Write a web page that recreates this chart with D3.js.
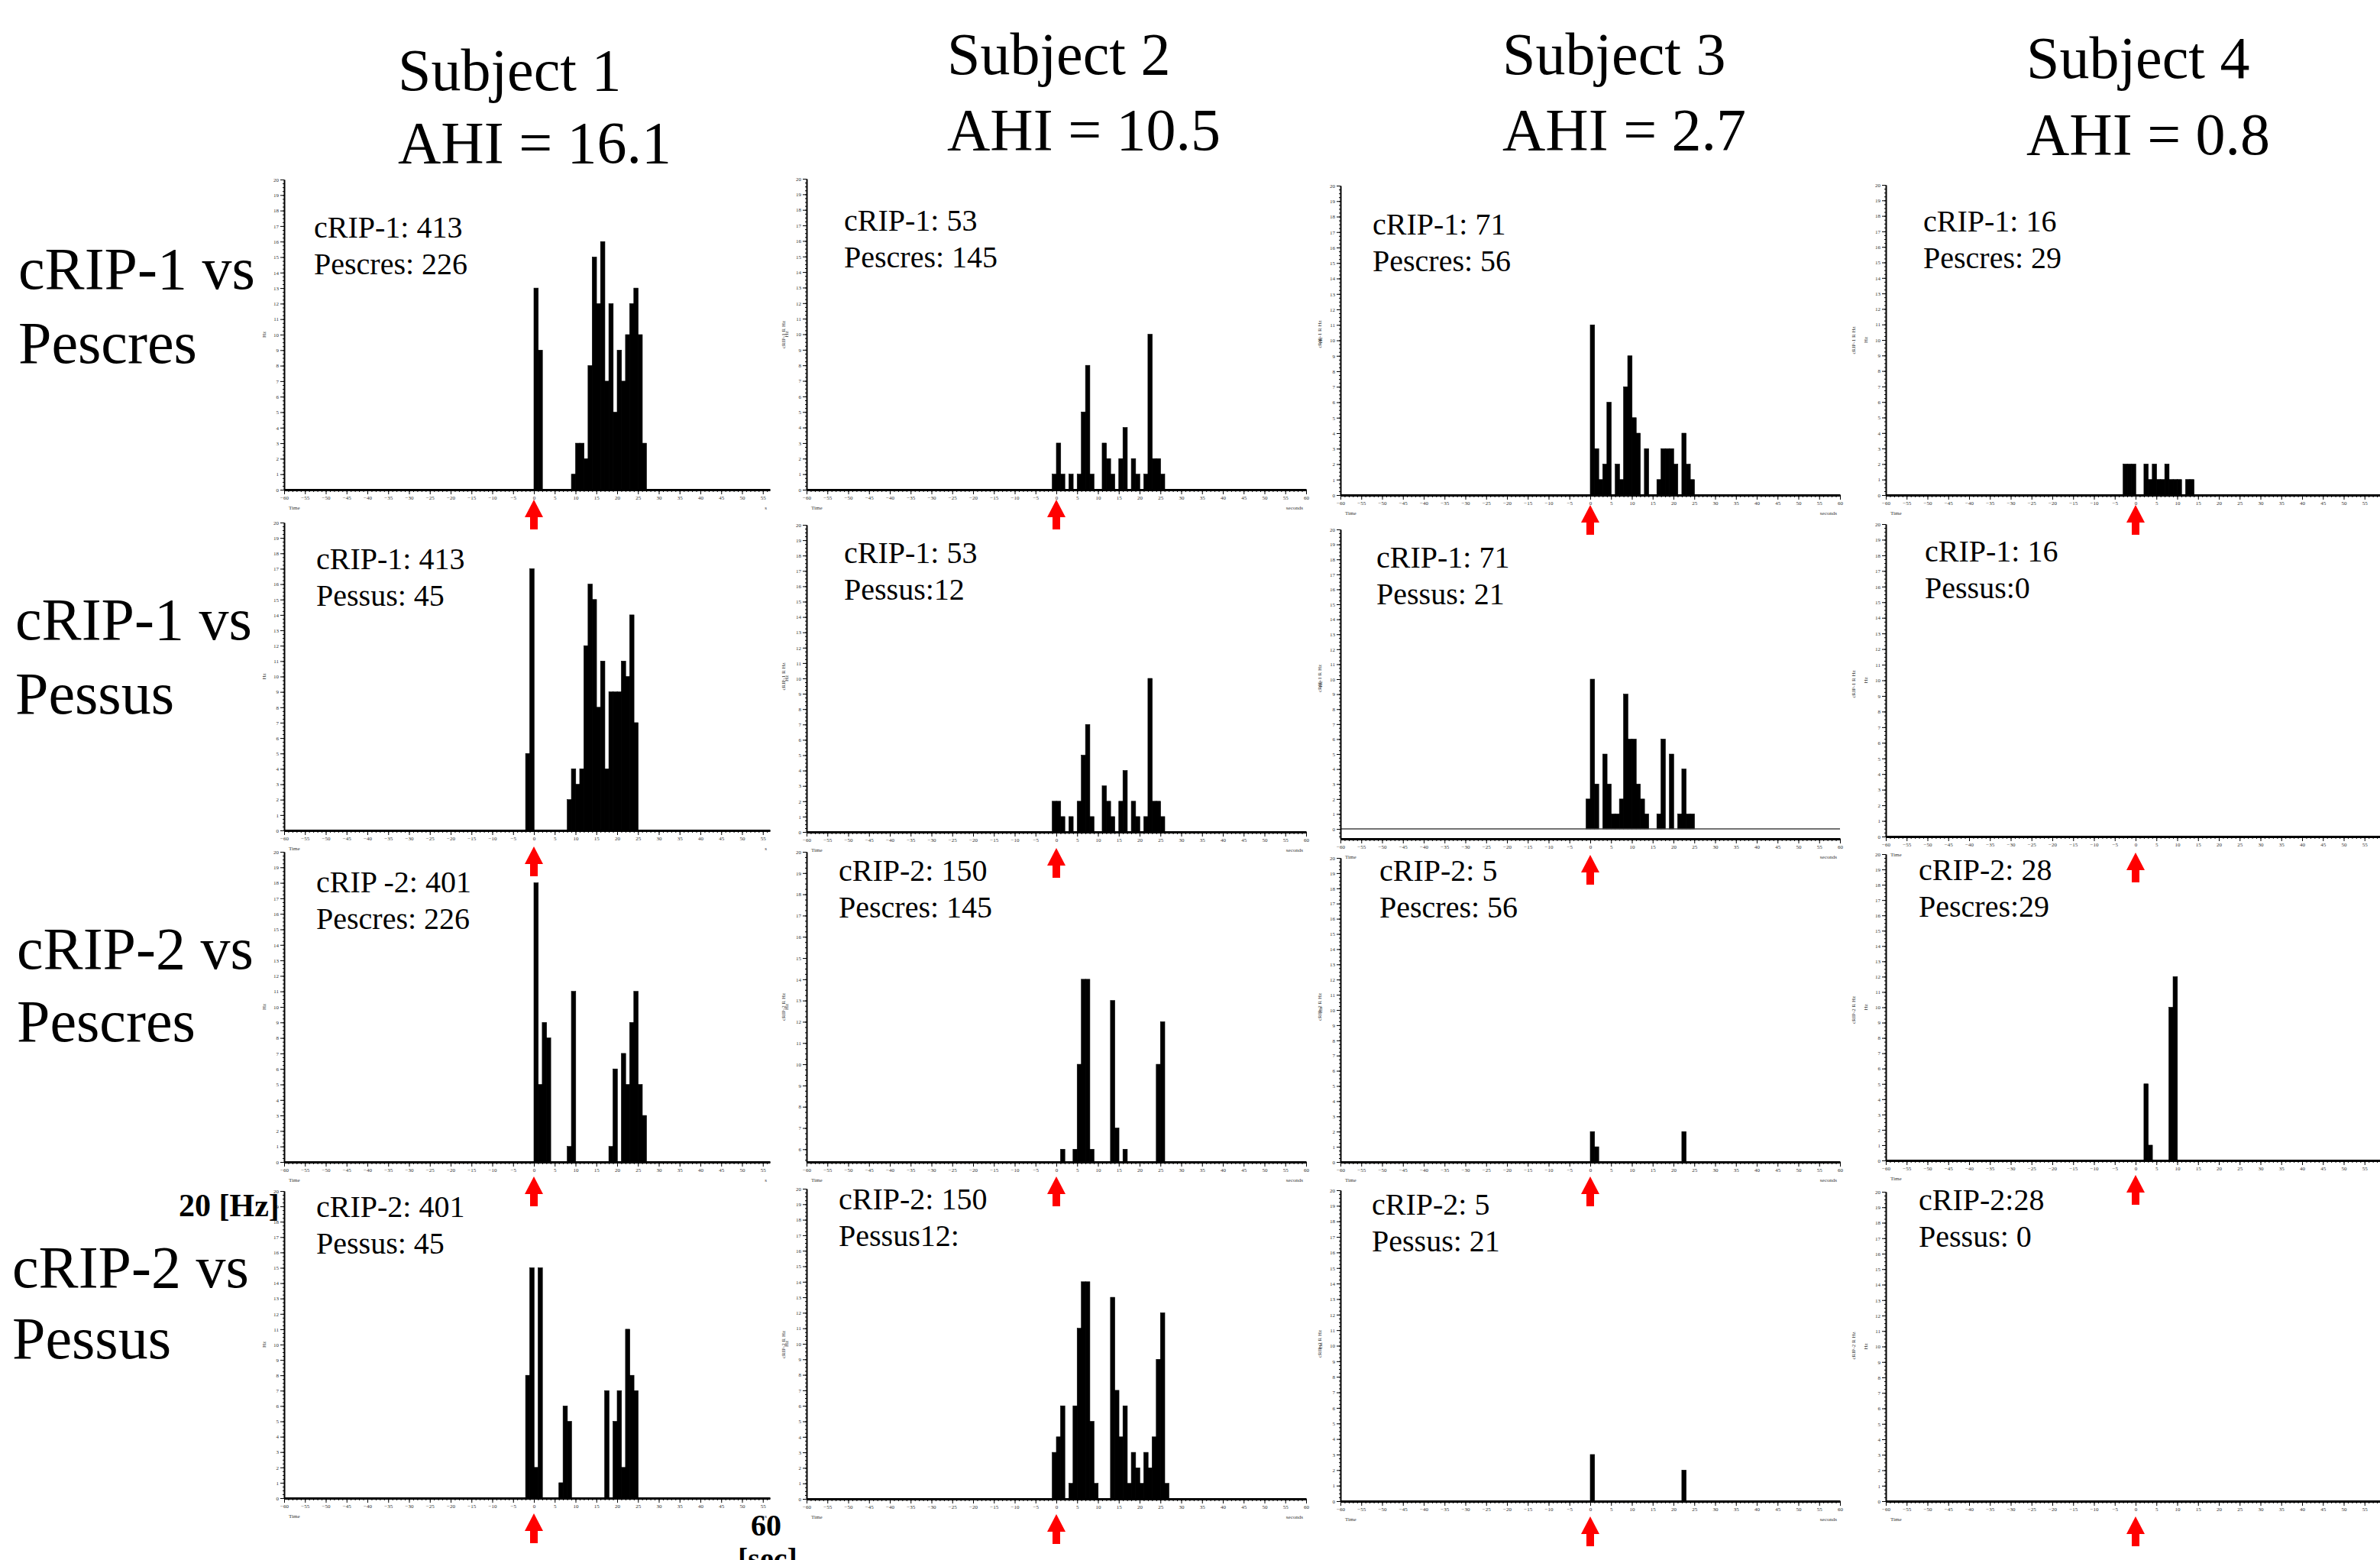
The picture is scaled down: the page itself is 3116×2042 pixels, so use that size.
<!DOCTYPE html>
<html>
<head>
<meta charset="utf-8">
<script src="https://cdn.jsdelivr.net/npm/d3@7"></script>
<style>
  body { margin: 0; background: #fff; }
  svg { display: block; }
</style>
</head>
<body>
<div id="chart"></div>
<script>
// Column / row labels
const subjects = ["Subject 1", "Subject 2", "Subject 3", "Subject 4"]
const ahiLabels = ["AHI = 16.1", "AHI = 10.5", "AHI = 2.7", "AHI = 0.8"]
const rowLabels = [["cRIP-1 vs", "Pescres"], ["cRIP-1 vs", "Pessus"], ["cRIP-2 vs", "Pescres"], ["cRIP-2 vs", "Pessus"]]

// text written inside each panel (row by row, subject 1..4)
const panelNotes = [
    [["cRIP-1: 413", "Pescres: 226"], ["cRIP-1: 53", "Pescres: 145"], ["cRIP-1: 71", "Pescres: 56"], ["cRIP-1: 16", "Pescres: 29"]],
    [["cRIP-1:  413", "Pessus: 45"], ["cRIP-1: 53", "Pessus:12"], ["cRIP-1: 71", "Pessus: 21"], ["cRIP-1: 16", "Pessus:0"]],
    [["cRIP -2: 401", "Pescres: 226"], ["cRIP-2: 150", "Pescres: 145"], ["cRIP-2: 5", "Pescres: 56"], ["cRIP-2: 28", "Pescres:29"]],
    [["cRIP-2: 401", "Pessus: 45"], ["cRIP-2: 150", "Pessus12:"], ["cRIP-2: 5", "Pessus: 21"], ["cRIP-2:28", "Pessus: 0"]]
]

// histogram counts [Hz], 1 s bins; binStart = time (s) of the first bin
const crip1VsPescres = [
    [13, 9, 0, 0, 0, 0, 0, 0, 0, 1, 3, 3, 2, 8, 15, 12, 16, 7, 12, 5, 9, 7, 10, 12, 13, 10, 3],
    [1, 3, 1, 0, 1, 0, 1, 5, 8, 1, 0, 0, 3, 2, 1, 0, 2, 4, 0, 2, 1, 0, 1, 10, 2, 2, 1],
    [11, 3, 1, 2, 6, 0, 2, 1, 7, 9, 5, 4, 0, 3, 0, 0, 1, 3, 3, 3, 2, 0, 4, 2, 1],
    [2, 2, 2, 0, 0, 2, 1, 2, 1, 1, 2, 1, 1, 1, 0, 1, 1]
]
const crip1VsPessus = [
    [5, 17, 0, 0, 0, 0, 0, 0, 0, 0, 2, 4, 3, 4, 12, 16, 15, 8, 11, 4, 9, 9, 9, 11, 10, 14, 7],
    [2, 2, 1, 0, 1, 0, 2, 5, 7, 1, 0, 0, 3, 2, 1, 0, 2, 4, 0, 2, 1, 0, 1, 10, 2, 2, 1],
    [2, 10, 3, 0, 5, 3, 1, 1, 2, 9, 6, 6, 3, 2, 1, 0, 0, 1, 6, 0, 5, 0, 1, 4, 1, 1],
    []
]
const crip2VsPescres = [
    [18, 5, 9, 8, 0, 0, 0, 0, 1, 11, 0, 0, 0, 0, 0, 0, 0, 0, 1, 6, 0, 7, 5, 9, 11, 5, 3],
    [6, 0, 0, 6, 10, 14, 14, 6, 0, 0, 0, 0, 13, 7, 0, 6, 0, 0, 0, 0, 0, 0, 0, 10, 12],
    [2, 1, 0, 0, 0, 0, 0, 0, 0, 0, 0, 0, 0, 0, 0, 0, 0, 0, 0, 0, 0, 0, 2],
    [5, 1, 0, 0, 0, 0, 10, 12]
]
const crip2VsPessus = [
    [8, 15, 2, 15, 0, 0, 0, 0, 1, 6, 5, 0, 0, 0, 0, 0, 0, 0, 0, 7, 0, 5, 7, 2, 11, 8, 7],
    [3, 4, 6, 0, 1, 6, 11, 14, 14, 5, 1, 0, 0, 0, 13, 7, 4, 6, 1, 3, 2, 1, 3, 2, 4, 9, 12, 1],
    [3, 0, 0, 0, 0, 0, 0, 0, 0, 0, 0, 0, 0, 0, 0, 0, 0, 0, 0, 0, 0, 0, 2],
    []
]
const binStart = [[0, -1, 0, -3], [-2, -1, -1, 0], [0, 1, 0, 2], [-2, -1, 0, 0]]
// lower end of each panel's y axis (two panels are not drawn from 0)
const yMin = [[0, 0, 0, 0], [0, 0, -0.66, 0], [0, 5.4, 0, 0], [0, 0, 0, 0]]

const panels = [crip1VsPescres, crip1VsPessus, crip2VsPescres, crip2VsPessus]

// layout
const W = 3116, H = 2042
const serif = "'Liberation Serif', 'Times New Roman', serif"
const colZeroX = [699, 1383, 2082, 2796]
const colXMax = [56.7, 60, 60, 58.7]
const pxPerSec = 5.45
const topY = [[235, 234, 243, 242], [684, 687, 693, 686], [1115, 1115, 1123, 1118], [1559, 1556, 1558, 1560]]
const axisY = [[641, 641, 648, 648], [1087, 1089, 1098, 1095], [1521, 1521, 1521, 1519], [1961, 1962, 1965, 1965]]
const arrowGap = [13, 21, 19, 20]
const notePos = [
    [[411, 311], [1105, 302], [1797, 307], [2518, 303]],
    [[414, 745], [1105, 737], [1802, 743], [2520, 735]],
    [[414, 1168], [1098, 1153], [1806, 1153], [2512, 1152]],
    [[414, 1593], [1098, 1583], [1796, 1590], [2512, 1584]]
]
const titleX = [521, 1240, 1967, 2653]
const titleY = [[118, 213], [97, 196], [97, 196], [102, 202]]
const rowLabelX = [24, 20, 22, 16]
const rowLabelY = [[378, 475], [837, 934], [1268, 1363], [1685, 1778]]

const svg = d3.select("#chart")
    .append("svg")
    .attr("width", W)
    .attr("height", H)
    .style("font-family", serif)

// column titles
subjects.forEach((s, c) => {
    svg.append("text").attr("x", titleX[c]).attr("y", titleY[c][0])
        .attr("font-size", 78).text(s)
    svg.append("text").attr("x", titleX[c]).attr("y", titleY[c][1])
        .attr("font-size", 78).text(ahiLabels[c])
})

// row labels
rowLabels.forEach((lines, r) => {
    lines.forEach((t, k) => {
        svg.append("text").attr("x", rowLabelX[r]).attr("y", rowLabelY[r][k])
            .attr("font-size", 78).text(t)
    })
})

panels.forEach((row, r) => {
    row.forEach((vals, c) => {
        const g = svg.append("g")
        const x = d3.scaleLinear()
            .domain([-60, colXMax[c]])
            .range([colZeroX[c] - 60 * pxPerSec, colZeroX[c] + colXMax[c] * pxPerSec])
        const lo = yMin[r][c]
        const y = d3.scaleLinear()
            .domain([lo, 20])
            .range([axisY[r][c], topY[r][c]])
        const base = y(Math.max(lo, 0))

        // bars
        const bins = vals.map((v, i) => ({t: binStart[r][c] + i, v: v}))
            .filter(d => d.v > 0 && d.v > lo)
        g.selectAll("rect")
            .data(bins)
            .join("rect")
            .attr("x", d => x(d.t))
            .attr("width", d => x(d.t + 1) - x(d.t) + 0.3)
            .attr("y", d => y(d.v))
            .attr("height", d => base - y(d.v))
            .attr("fill", "#000")
            .attr("stroke", "#000")
            .attr("stroke-width", 0.6)

        // zero line when the axis starts below 0
        if (lo < 0) {
            g.append("line")
                .attr("x1", x(-60)).attr("x2", x(colXMax[c]))
                .attr("y1", y(0)).attr("y2", y(0))
                .attr("stroke", "#444").attr("stroke-width", 1.5)
        }

        // y axis: minor + major ticks
        const yMinor = d3.range(Math.ceil(lo * 4) / 4, 20.01, 0.25)
        g.append("g")
            .attr("transform", `translate(${x(-60)},0)`)
            .call(d3.axisLeft(y).tickValues(yMinor).tickSize(2).tickSizeOuter(0).tickFormat(""))
        const yAx = g.append("g")
            .attr("transform", `translate(${x(-60)},0)`)
            .call(d3.axisLeft(y).tickValues(d3.range(Math.ceil(lo), 21)).tickSize(5).tickSizeOuter(0).tickFormat(d3.format("d")))
        yAx.selectAll("text").attr("font-size", 7).attr("font-family", serif).attr("fill", "#333").attr("dx", 1)
        yAx.select(".domain").attr("stroke-width", 2)

        // x axis: minor + major ticks
        const xMinor = d3.range(-60, colXMax[c] + 0.01, 1)
        g.append("g")
            .attr("transform", `translate(0,${axisY[r][c]})`)
            .call(d3.axisBottom(x).tickValues(xMinor).tickSize(3).tickSizeOuter(0).tickFormat(""))
        const xAx = g.append("g")
            .attr("transform", `translate(0,${axisY[r][c]})`)
            .call(d3.axisBottom(x).tickValues(d3.range(-60, colXMax[c] + 0.01, 5)).tickSize(6).tickSizeOuter(0).tickFormat(d3.format("d")))
        xAx.selectAll("text").attr("font-size", 7).attr("font-family", serif).attr("fill", "#333").attr("dy", "0.5em")
        xAx.select(".domain").attr("stroke-width", 3)

        // tiny software captions
        g.append("text").attr("x", x(-60) + 6).attr("y", axisY[r][c] + 26)
            .attr("font-size", 7).attr("fill", "#333").text("Time")
        if (c < 3) {
            g.append("text").attr("x", x(colXMax[c]) - 4).attr("y", axisY[r][c] + 26)
                .attr("font-size", 7).attr("fill", "#333").attr("text-anchor", "end").text(c === 0 ? "s" : "seconds")
        }
        const midY = (topY[r][c] + axisY[r][c]) / 2
        g.append("text")
            .attr("transform", `translate(${x(-60) - 24},${midY}) rotate(-90)`)
            .attr("font-size", 7).attr("fill", "#333").attr("text-anchor", "middle").text("Hz")
        if (c < 3) {
            g.append("text")
                .attr("transform", `translate(${x(colXMax[c]) + 20},${midY}) rotate(-90)`)
                .attr("font-size", 7).attr("fill", "#333").attr("text-anchor", "middle")
                .text(r < 2 ? "cRIP-1 R Hz" : "cRIP-2 R Hz")
        }

        // panel note
        panelNotes[r][c].forEach((t, k) => {
            g.append("text")
                .attr("x", notePos[r][c][0])
                .attr("y", notePos[r][c][1] + k * 48)
                .attr("font-size", 40)
                .text(t)
        })

        // red arrow under t = 0
        const ax = x(0), at = axisY[r][c] + arrowGap[r]
        const pts = [[ax, at], [ax + 12, at + 23], [ax + 5, at + 23], [ax + 5, at + 39],
            [ax - 5, at + 39], [ax - 5, at + 23], [ax - 12, at + 23]]
        g.append("polygon")
            .attr("points", pts.map(p => p.join(",")).join(" "))
            .attr("fill", "#ff0000")
    })
})

// unit labels
svg.append("text").attr("x", 234).attr("y", 1592)
    .attr("font-size", 42).attr("font-weight", "bold").text("20 [Hz]")
svg.append("text").attr("x", 983).attr("y", 2010)
    .attr("font-size", 40).attr("font-weight", "bold").text("60")
svg.append("text").attr("x", 966).attr("y", 2054)
    .attr("font-size", 40).attr("font-weight", "bold").text("[sec]")
</script>
</body>
</html>
